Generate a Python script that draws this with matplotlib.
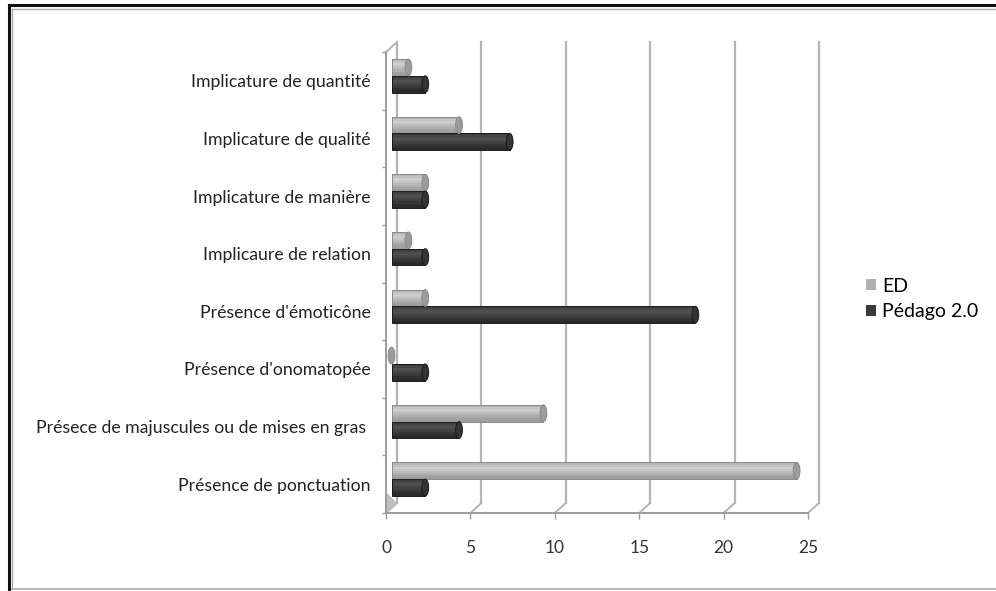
import matplotlib
matplotlib.use("Agg")
import matplotlib.pyplot as plt
import numpy as np
from matplotlib.patches import Ellipse, Patch, Polygon
from matplotlib.transforms import offset_copy
from matplotlib.lines import Line2D
from matplotlib.colors import to_rgb

plt.rcParams['font.family'] = ['Lato', 'DejaVu Sans']

# categories from bottom to top
categories = [
    "Présence de ponctuation",
    "Présece de majuscules ou de mises en gras ",
    "Présence d'onomatopée",
    "Présence d'émoticône",
    "Implicaure de relation",
    "Implicature de manière",
    "Implicature de qualité",
    "Implicature de quantité",
]
ed = [24, 9, 0, 2, 1, 2, 4, 1]
pedago = [2, 4, 2, 18, 2, 2, 7, 2]
series_names = ["ED", "Pédago 2.0"]
xticks = [0, 5, 10, 15, 20, 25]

ed_top, ed_bot, ed_edge = "#cfcfcf", "#9e9e9e", "#8a8a8a"
pe_top, pe_bot, pe_edge = "#505050", "#2a2a2a", "#1a1a1a"
grid_col = "#b4b4b4"

fig = plt.figure(figsize=(9.96, 5.91), dpi=100)
ax = fig.add_axes([386 / 996, 1 - 513 / 591, 422 / 996, 461 / 591])
ax.set_xlim(0, 25)
ax.set_ylim(0, len(categories))
for s in ax.spines.values():
    s.set_visible(False)

# pseudo 3d depth: mid plane for bars, back plane for walls
mid = offset_copy(ax.transData, fig=fig, x=5.5, y=5, units='dots')
back = offset_copy(ax.transData, fig=fig, x=11, y=10, units='dots')
n = len(categories)
inv = ax.transData.inverted()

# back wall gridlines + diagonals down to the front floor
for xv in xticks:
    ax.add_line(Line2D([xv, xv], [0, n], transform=back, color=grid_col, lw=1.6,
                       zorder=1, clip_on=False))
    q = inv.transform(back.transform((xv, 0)))
    ax.plot([xv, q[0]], [0, q[1]], color=grid_col, lw=1.4, zorder=1, clip_on=False)
q_top = inv.transform(back.transform((0, n)))
ax.plot([0, q_top[0]], [n, q_top[1]], color=grid_col, lw=1.4, clip_on=False)
q_bot = inv.transform(back.transform((0, 0)))
ax.add_patch(Polygon([[0, 0], [0, 0.36], [q_bot[0], q_bot[1]]], closed=True,
                     facecolor="#bdbdbd", edgecolor="none", zorder=1, clip_on=False))

# front axes lines
ax.plot([0, 0], [0, n], color="#9c9c9c", lw=1.4, clip_on=False, zorder=2)
ax.plot([0, 25], [0, 0], color="#9c9c9c", lw=1.4, clip_on=False, zorder=2)

# cylinder bars, shaded with horizontal strips
h = 0.29
cap = 0.4
nstrip = 8
def cyl(y, v, ctop, cbot, edge):
    c0, c1 = np.array(to_rgb(ctop)), np.array(to_rgb(cbot))
    if v > 0:
        for k in range(nstrip):
            t = k / (nstrip - 1)
            # lighter band slightly above centre, darker towards the bottom
            w = min(1.0, abs(t - 0.3) * 1.6)
            col = c0 * (1 - w) + c1 * w
            yy = y + h / 2 - (k + 0.5) * h / nstrip
            ax.barh(yy, v, height=h / nstrip * 1.05, left=0, color=col, lw=0,
                    transform=mid, zorder=3, clip_on=False)
        ax.barh(y, v, height=h, left=0, color='none', edgecolor=edge, lw=0.7,
                transform=mid, zorder=3, clip_on=False)
    ax.add_patch(Ellipse((v, y), cap, h, facecolor=(c0 + c1) / 2 * 0.85,
                         edgecolor=edge, lw=0.7, transform=mid, zorder=4, clip_on=False))

for i in range(n):
    cyl(i + 0.5 + h / 2, ed[i], ed_top, ed_bot, ed_edge)
    cyl(i + 0.5 - h / 2, pedago[i], pe_top, pe_bot, pe_edge)

# ticks and labels
ax.set_xticks(xticks)
ax.set_xticklabels([str(x) for x in xticks], fontsize=12.5, color="#333333")
ax.tick_params(axis='x', length=4.5, width=1, color="#9c9c9c", pad=15)
ax.set_yticks(range(n + 1))
ax.set_yticklabels([])
ax.tick_params(axis='y', which='major', length=3, width=1, color="#9c9c9c")
ax.set_yticks([i + 0.5 for i in range(n)], minor=True)
ax.set_yticklabels(categories, minor=True, fontsize=12.7, color="#222222")
ax.tick_params(axis='y', which='minor', length=0, pad=11)
for lab in ax.get_yticklabels(minor=True):
    lab.set_transform(lab.get_transform() + offset_copy(ax.transData, fig=fig, y=-3,
                                                        units='dots') - ax.transData)

handles = [Patch(facecolor="#b0b0b0", edgecolor='none'), Patch(facecolor="#3a3a3a", edgecolor='none')]
fig.legend(handles, series_names, loc='upper left', bbox_to_anchor=(848 / 996, 1 - 260 / 591),
           frameon=False, fontsize=14, handlelength=0.55, handleheight=0.55,
           handletextpad=0.3, labelspacing=0.45)

# frame around picture
fig.add_artist(Line2D([9 / 996, 9 / 996], [0, 1 - 5 / 591], color="#111111", lw=2.2))
fig.add_artist(Line2D([9 / 996, 1], [1 - 5 / 591, 1 - 5 / 591], color="#111111", lw=2.2))
fig.add_artist(Line2D([12 / 996, 12 / 996], [2 / 591, 1 - 9 / 591], color="#aaaaaa", lw=1))
fig.add_artist(Line2D([12 / 996, 1], [1 - 9 / 591, 1 - 9 / 591], color="#aaaaaa", lw=1))
fig.add_artist(Line2D([12 / 996, 1], [2 / 591, 2 / 591], color="#aaaaaa", lw=1.2))

fig.savefig("out.png", dpi=100)
